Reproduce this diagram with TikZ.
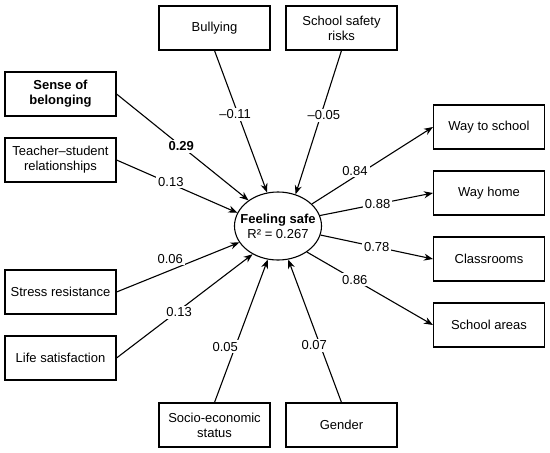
\documentclass[tikz,border=0pt]{standalone}
\usepackage{fontspec}
\setmainfont{Liberation Sans}
\usetikzlibrary{shapes.geometric,arrows.meta}
\begin{document}
\begin{tikzpicture}[x=1pt,y=-1pt,
  txt/.style={font=\fontsize{13}{15}\selectfont},
  box/.style={txt,draw,line width=1.1pt,minimum width=111pt,minimum height=44pt,inner sep=0pt,align=center},
  lbl/.style={txt,fill=white,inner sep=2pt},
  arr/.style={line width=1.1pt,-{Stealth[length=9pt,width=7pt]}}]
\useasboundingbox (0,0) rectangle (550,453);
% central latent variable
\node[txt,draw,ellipse,line width=1.1pt,minimum width=87pt,minimum height=68pt,inner xsep=-8pt,inner ysep=0pt,align=center] (fs) at (278,226) {\textbf{Feeling safe}\\R² = 0.267};
% predictor boxes
\node[box] (bully) at (214.5,28) {Bullying};
\node[box] (ssr) at (341.5,28) {School safety\\risks};
\node[box] (sob) at (60.5,94) {\textbf{Sense of}\\\textbf{belonging}};
\node[box] (tsr) at (60.5,160) {Teacher–student\\relationships};
\node[box] (stress) at (60.5,292) {Stress resistance};
\node[box] (life) at (60.5,358) {Life satisfaction};
\node[box] (ses) at (214.5,425) {Socio-economic\\status};
\node[box] (gender) at (341.5,425) {Gender};
% indicator boxes
\node[box] (wts) at (489,127) {Way to school};
\node[box] (wh) at (489,193) {Way home};
\node[box] (cls) at (489,259) {Classrooms};
\node[box] (sa) at (489,325) {School areas};
% paths into Feeling safe
\draw[arr] (bully.south) -- node[lbl,pos=.45,xshift=-3pt]{–0.11} (fs.108);
\draw[arr] (ssr.south) -- node[lbl,pos=.45,xshift=3pt]{–0.05} (fs.61);
\draw[arr] (sob.east) -- node[lbl,pos=.49]{\textbf{0.29}} (fs.139);
\draw[arr] (tsr.east) -- node[lbl,pos=.45,yshift=2pt]{0.13} (fs.162);
\draw[arr] (stress.east) -- node[lbl,pos=.47,xshift=-4pt,yshift=10pt]{0.06} (fs.203);
\draw[arr] (life.east) -- node[lbl,pos=.46,yshift=-2pt]{0.13} (fs.228);
\draw[arr] (ses.north) -- node[lbl,pos=.37,xshift=-9pt,yshift=3pt]{0.05} (fs.253);
\draw[arr] (gender.north) -- node[lbl,pos=.40,xshift=-6pt]{0.07} (fs.287);
% loadings
\draw[arr] (fs.33) -- node[lbl,pos=.38,xshift=-3pt,yshift=4pt]{0.84} (wts.west);
\draw[arr] (fs.14) -- node[lbl,pos=.51]{0.88} (wh.west);
\draw[arr] (fs.-12) -- node[lbl,pos=.50]{0.78} (cls.west);
\draw[arr] (fs.-42) -- node[lbl,pos=.38]{0.86} (sa.west);
\end{tikzpicture}
\end{document}
